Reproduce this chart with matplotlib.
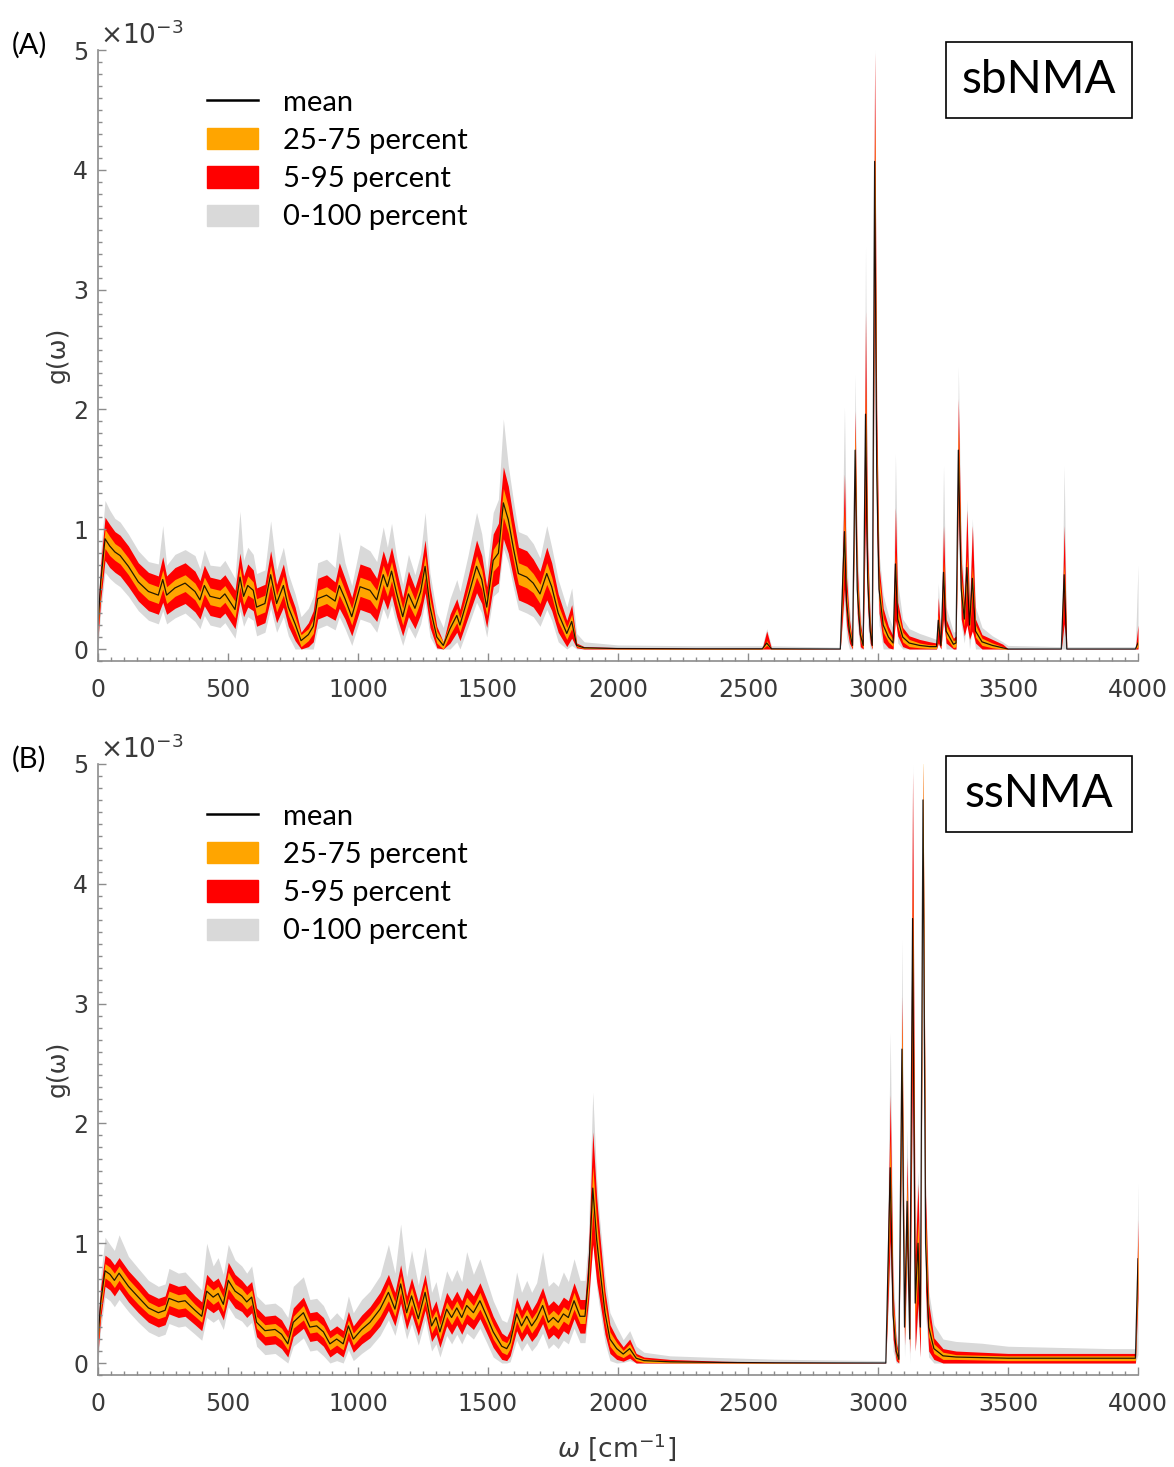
import numpy as np
import matplotlib.pyplot as plt
from matplotlib.lines import Line2D
from matplotlib.patches import Patch, Rectangle
from matplotlib.ticker import MultipleLocator

# ---- panel A (sbNMA): wavenumber, mean and band half-widths, all in units of 1e-3
a_w = [0, 10, 27, 45, 65, 85, 117, 155, 194, 232,
       249, 264, 296, 335, 373, 392, 409, 431, 469, 488,
       527, 546, 560, 576, 597, 610, 642, 664, 687, 713,
       732, 758, 781, 809, 828, 845, 879, 912, 928, 950,
       976, 1008, 1046, 1072, 1097, 1113, 1129, 1149, 1172, 1194,
       1219, 1241, 1258, 1277, 1303, 1328, 1354, 1380, 1392, 1424,
       1456, 1476, 1495, 1520, 1540, 1559, 1578, 1597, 1617, 1649,
       1674, 1700, 1726, 1745, 1770, 1803, 1822, 1841, 1870, 2000,
       2300, 2555, 2572, 2590, 2855, 2871, 2879, 2890, 2902, 2912,
       2920, 2932, 2943, 2952, 2960, 2970, 2978, 2987, 2995, 3004,
       3020, 3040, 3058, 3067, 3076, 3095, 3120, 3160, 3200, 3225,
       3232, 3242, 3252, 3262, 3290, 3300, 3309, 3320, 3332, 3342,
       3352, 3363, 3375, 3400, 3440, 3480, 3500, 3705, 3716, 3726,
       3990, 4000]
a_mean = [.20, .55, .92, .86, .81, .78, .69, .56, .48, .45,
          .58, .45, .51, .55, .48, .41, .53, .44, .42, .46,
          .33, .60, .44, .53, .49, .35, .38, .62, .38, .53,
          .35, .21, .07, .12, .19, .42, .45, .40, .53, .42,
          .27, .52, .49, .41, .62, .52, .65, .46, .27, .46,
          .34, .48, .69, .35, .10, .03, .17, .28, .20, .44,
          .69, .58, .35, .74, .80, 1.22, 1.08, .85, .63, .60,
          .55, .46, .63, .52, .30, .13, .23, .03, .01, .004,
          .002, .002, .05, .002, 0, .98, .40, .15, .03, 1.66,
          .50, .12, .03, 1.96, .60, .15, .03, 4.07, 1.50, .50,
          .20, .10, .05, .71, .25, .10, .05, .03, .02, .02,
          .24, .03, .64, .15, .04, .05, 1.66, .50, .25, .68,
          .20, .59, .15, .06, .03, .01, 0, 0, .62, 0,
          0, .05]
a_s50 = [.05, .06, .08, .08, .07, .07, .07, .07, .07, .07,
         .08, .07, .07, .07, .07, .07, .07, .07, .07, .07,
         .07, .08, .07, .08, .07, .07, .07, .08, .07, .08,
         .07, .06, .05, .05, .06, .07, .07, .07, .08, .07,
         .07, .08, .08, .08, .08, .08, .08, .08, .07, .08,
         .07, .08, .09, .07, .05, .03, .05, .06, .06, .07,
         .09, .08, .07, .09, .10, .12, .11, .10, .09, .09,
         .08, .08, .09, .08, .07, .05, .06, .01, .005, .003,
         .002, .002, .02, .002, 0, .20, .08, .05, .02, .20,
         .10, .05, .02, .30, .12, .05, .02, .40, .20, .10,
         .06, .04, .03, .10, .06, .04, .03, .02, .015, .015,
         .05, .02, .10, .05, .03, .03, .20, .10, .06, .10,
         .06, .10, .05, .03, .02, .01, 0, 0, .10, 0,
         0, .03]
a_s90 = [.12, .15, .18, .18, .17, .17, .17, .16, .16, .16,
         .19, .16, .17, .17, .17, .16, .17, .16, .16, .16,
         .16, .20, .17, .18, .17, .16, .16, .20, .16, .18,
         .16, .14, .07, .10, .13, .17, .17, .16, .19, .17,
         .16, .19, .19, .18, .20, .19, .20, .19, .16, .19,
         .17, .19, .22, .17, .09, .03, .12, .14, .13, .17,
         .22, .20, .17, .22, .25, .30, .28, .25, .22, .22,
         .20, .19, .22, .20, .16, .11, .14, .02, .01, .008,
         .004, .004, .10, .004, .002, .48, .20, .10, .04, .33,
         .20, .10, .04, .86, .25, .10, .04, .91, .50, .20,
         .14, .09, .06, .47, .14, .08, .06, .05, .04, .03,
         .19, .04, .39, .10, .05, .06, .43, .25, .14, .48,
         .12, .44, .10, .06, .05, .03, .003, .002, .41, .002,
         .002, .15]
a_glo = [.20, .25, .28, .27, .26, .26, .25, .24, .24, .24,
         .26, .24, .25, .25, .25, .24, .25, .24, .24, .24,
         .24, .28, .25, .26, .25, .24, .24, .28, .24, .26,
         .24, .21, .07, .12, .19, .25, .25, .24, .26, .25,
         .24, .27, .27, .27, .28, .27, .28, .27, .24, .27,
         .25, .27, .30, .25, .10, .03, .17, .22, .20, .25,
         .30, .28, .25, .30, .32, .38, .36, .33, .30, .30,
         .28, .27, .30, .28, .24, .13, .20, .03, .01, .004,
         .002, .002, .05, .002, 0, .60, .30, .15, .03, .60,
         .30, .12, .03, .80, .40, .15, .03, 1.5, .80, .30,
         .20, .10, .05, .40, .20, .10, .05, .03, .02, .02,
         .20, .03, .40, .15, .04, .05, .60, .30, .20, .40,
         .20, .40, .15, .06, .03, .01, 0, 0, .62, 0,
         0, .05]
a_ghi = [.15, .25, .32, .30, .28, .28, .27, .26, .25, .26,
         .45, .25, .28, .28, .30, .26, .30, .26, .27, .28,
         .26, .55, .30, .32, .30, .28, .28, .45, .28, .32,
         .28, .25, .20, .22, .25, .30, .30, .28, .45, .30,
         .26, .35, .33, .32, .40, .33, .40, .30, .27, .33,
         .28, .32, .45, .28, .20, .15, .25, .30, .28, .35,
         .45, .38, .30, .40, .45, .70, .45, .40, .35, .35,
         .33, .30, .40, .33, .28, .22, .28, .10, .05, .03,
         .025, .025, .12, .025, .015, 1.04, .40, .20, .08, .63,
         .40, .20, .08, 1.40, .50, .20, .08, .95, .60, .30,
         .25, .18, .12, .92, .30, .15, .12, .10, .08, .06,
         .31, .08, .89, .20, .10, .10, .70, .40, .25, .57,
         .25, .50, .20, .12, .08, .05, .03, .02, .91, .02,
         .02, .65]

# ---- panel B (ssNMA)
b_w = [0, 10, 27, 46, 63, 81, 117, 155, 194, 232,
       258, 273, 309, 335, 373, 399, 418, 443, 462, 482,
       501, 527, 553, 572, 591, 610, 642, 681, 706, 730,
       751, 790, 815, 841, 867, 892, 918, 943, 963, 982,
       1014, 1046, 1085, 1117, 1142, 1164, 1187, 1206, 1232, 1258,
       1283, 1300, 1315, 1341, 1360, 1380, 1399, 1418, 1444, 1469,
       1495, 1520, 1553, 1572, 1585, 1610, 1629, 1649, 1668, 1687,
       1710, 1732, 1751, 1770, 1790, 1809, 1831, 1854, 1873, 1886,
       1903, 1918, 1929, 1950, 1969, 1995, 2020, 2045, 2070, 2100,
       2200, 2400, 2600, 3030, 3047, 3058, 3070, 3080, 3092, 3102,
       3112, 3122, 3133, 3143, 3154, 3163, 3173, 3183, 3195, 3215,
       3250, 3300, 3400, 3500, 3700, 3900, 3990, 4000]
b_mean = [.20, .50, .77, .74, .69, .75, .64, .55, .46, .42,
          .44, .54, .51, .52, .44, .39, .60, .55, .58, .49,
          .69, .60, .56, .51, .55, .34, .27, .28, .24, .16,
          .34, .42, .30, .31, .26, .16, .20, .16, .31, .20,
          .28, .34, .45, .59, .45, .66, .42, .56, .37, .59,
          .31, .38, .26, .45, .38, .46, .38, .48, .42, .52,
          .39, .26, .14, .12, .17, .41, .31, .39, .31, .37,
          .48, .34, .38, .34, .41, .38, .52, .39, .39, .70,
          1.46, 1.03, .81, .42, .20, .12, .075, .12, .04, .02,
          .01, .005, .002, 0, 1.63, .40, .10, .03, 2.62, .30,
          1.35, .20, 3.71, .50, 1.00, .30, 4.70, 1.00, .30, .12,
          .06, .05, .045, .04, .04, .04, .04, .87]
b_s50 = [.05, .06, .06, .06, .06, .06, .06, .06, .05, .05,
         .05, .06, .06, .06, .05, .05, .06, .06, .06, .06,
         .07, .06, .06, .06, .06, .05, .05, .05, .05, .05,
         .05, .06, .05, .05, .05, .05, .05, .05, .05, .05,
         .05, .06, .06, .07, .06, .07, .06, .07, .06, .07,
         .06, .06, .06, .06, .06, .06, .06, .07, .06, .07,
         .06, .06, .05, .05, .05, .06, .06, .06, .06, .06,
         .07, .06, .06, .06, .06, .06, .07, .06, .06, .10,
         .18, .15, .12, .08, .06, .05, .03, .04, .02, .015,
         .008, .004, .002, 0, .25, .10, .04, .02, .30, .08,
         .20, .06, .40, .15, .20, .10, .40, .20, .08, .04,
         .03, .02, .02, .02, .02, .02, .02, .20]
b_s90 = [.12, .13, .13, .13, .13, .13, .13, .13, .12, .12,
         .12, .13, .13, .13, .12, .12, .14, .13, .13, .13,
         .15, .14, .13, .13, .13, .12, .12, .12, .12, .11,
         .12, .13, .12, .12, .12, .11, .11, .11, .12, .11,
         .12, .13, .14, .15, .14, .16, .14, .15, .14, .15,
         .13, .14, .13, .14, .14, .14, .14, .15, .14, .15,
         .14, .13, .11, .10, .11, .14, .13, .14, .13, .14,
         .15, .14, .14, .14, .14, .14, .15, .14, .14, .20,
         .47, .35, .28, .18, .12, .09, .06, .08, .04, .03,
         .02, .01, .005, .002, .61, .20, .08, .04, .44, .15,
         .37, .12, 1.22, .40, .50, .25, .30, .40, .20, .09,
         .06, .05, .045, .04, .04, .04, .04, .33]
b_glo = [.20, .22, .22, .22, .22, .22, .21, .21, .20, .20,
         .20, .21, .21, .21, .20, .20, .22, .21, .21, .21,
         .22, .22, .21, .21, .21, .20, .20, .20, .20, .16,
         .20, .21, .20, .20, .20, .16, .18, .16, .20, .18,
         .20, .21, .22, .23, .22, .24, .22, .23, .22, .23,
         .21, .22, .21, .22, .22, .22, .22, .23, .22, .23,
         .22, .21, .14, .12, .16, .22, .21, .22, .21, .22,
         .23, .22, .22, .22, .22, .22, .23, .22, .22, .28,
         .45, .40, .35, .25, .18, .12, .07, .10, .04, .02,
         .01, .005, .002, 0, .80, .30, .10, .03, 1.0, .25,
         .60, .20, 1.5, .40, .60, .25, 1.5, .60, .25, .12,
         .06, .05, .045, .04, .04, .04, .04, .80]
b_ghi = [.15, .22, .28, .25, .25, .32, .25, .24, .23, .22,
         .22, .25, .24, .24, .23, .22, .40, .26, .30, .25,
         .30, .26, .25, .24, .26, .22, .22, .22, .22, .22,
         .30, .30, .23, .23, .22, .20, .22, .20, .25, .22,
         .25, .26, .28, .40, .30, .50, .30, .38, .28, .38,
         .28, .30, .26, .32, .30, .32, .30, .45, .32, .35,
         .30, .26, .22, .22, .25, .35, .28, .30, .28, .30,
         .45, .30, .30, .30, .35, .30, .35, .30, .30, .35,
         .80, .50, .40, .30, .22, .18, .12, .15, .10, .07,
         .05, .04, .03, .02, 1.13, .40, .15, .08, .92, .40,
         .60, .30, 1.29, .60, .60, .40, .30, .50, .30, .20,
         .14, .13, .12, .10, .09, .08, .08, .63]

legend_labels = ["mean", "25-75 percent", "5-95 percent", "0-100 percent"]

FIG_W, FIG_H = 1174, 1467
ORANGE = "#ffa500"
RED = "#ff0000"
GRAY = "#d9d9d9"
AXCOL = "#8c8c8c"
TXTCOL = "#3a3a3a"


# pixel position -> figure fraction
def fx(x):
    return x / FIG_W


def fy(y):
    return 1 - y / FIG_H


# draws one panel with its bands, mean line, legend and name box
def draw_panel(fig, top, w, mean, s50, s90, glo, ghi, tag, name):
    w = np.array(w, dtype=float)
    m = np.array(mean)
    s50, s90 = np.array(s50), np.array(s90)
    glo, ghi = np.array(glo), np.array(ghi)

    ax = fig.add_axes([fx(98), fy(top + 611), 1040 / FIG_W, 611 / FIG_H])
    ax.fill_between(w, np.clip(m - glo, 0, None), m + ghi, color=GRAY, lw=0)
    ax.fill_between(w, np.clip(m - s90, 0, None), m + s90, color=RED, lw=0)
    ax.fill_between(w, np.clip(m - s50, 0, None), m + s50, color=ORANGE, lw=0)
    ax.plot(w, m, color="k", lw=0.9, alpha=0.85)

    ax.set_xlim(0, 4000)
    ax.set_ylim(-0.1, 5.0)
    ax.xaxis.set_major_locator(MultipleLocator(500))
    ax.xaxis.set_minor_locator(MultipleLocator(50))
    ax.yaxis.set_major_locator(MultipleLocator(1))
    ax.yaxis.set_minor_locator(MultipleLocator(0.1))
    for s in ["top", "right"]:
        ax.spines[s].set_visible(False)
    for s in ["left", "bottom"]:
        ax.spines[s].set_color(AXCOL)
        ax.spines[s].set_linewidth(1.2)
    ax.tick_params(which="both", direction="in", color=AXCOL, width=1,
                   labelcolor=TXTCOL, labelsize=17)
    ax.tick_params(which="major", length=6)
    ax.tick_params(which="minor", length=3)
    ax.tick_params(axis="x", pad=12)
    ax.tick_params(axis="y", pad=7)

    handles = [Line2D([], [], color="k", lw=1.8),
               Patch(color=ORANGE), Patch(color=RED), Patch(color=GRAY)]
    ax.legend(handles, legend_labels, loc="upper left",
              bbox_to_anchor=(0.105, 0.935), frameon=False,
              prop={"family": "Lato", "size": 21},
              handlelength=1.75, handleheight=0.75, handletextpad=0.85,
              labelspacing=0.42, borderpad=0, borderaxespad=0)

    # panel tag, exponent, y label
    fig.text(fx(12), fy(top - 5), tag, fontsize=21, family="Lato",
             va="center", ha="left")
    fig.text(fx(100), fy(top - 14), r"$\times10^{-3}$", fontsize=19,
             color=TXTCOL, va="center", ha="left")
    fig.text(fx(58), fy(top + 305), "g(ω)", fontsize=18, color=TXTCOL,
             rotation=90, va="center", ha="center")

    # model name in a box
    y0 = top - 8
    fig.add_artist(Rectangle((fx(946), fy(y0 + 76)), 186 / FIG_W, 76 / FIG_H,
                             transform=fig.transFigure, fill=False,
                             edgecolor="k", lw=1.2))
    fig.text(fx(1039), fy(y0 + 38), name, fontsize=33, family="Lato",
             va="center", ha="center")
    return ax


def main():
    fig = plt.figure(figsize=(FIG_W / 100, FIG_H / 100), dpi=100)
    draw_panel(fig, 50, a_w, a_mean, a_s50, a_s90, a_glo, a_ghi, "(A)", "sbNMA")
    draw_panel(fig, 764, b_w, b_mean, b_s50, b_s90, b_glo, b_ghi, "(B)", "ssNMA")
    fig.text(fx(617), fy(1447), r"$\omega$ [cm$^{-1}$]", fontsize=19,
             color=TXTCOL, va="center", ha="center")
    fig.savefig("out.png", dpi=100)


if __name__ == "__main__":
    main()
